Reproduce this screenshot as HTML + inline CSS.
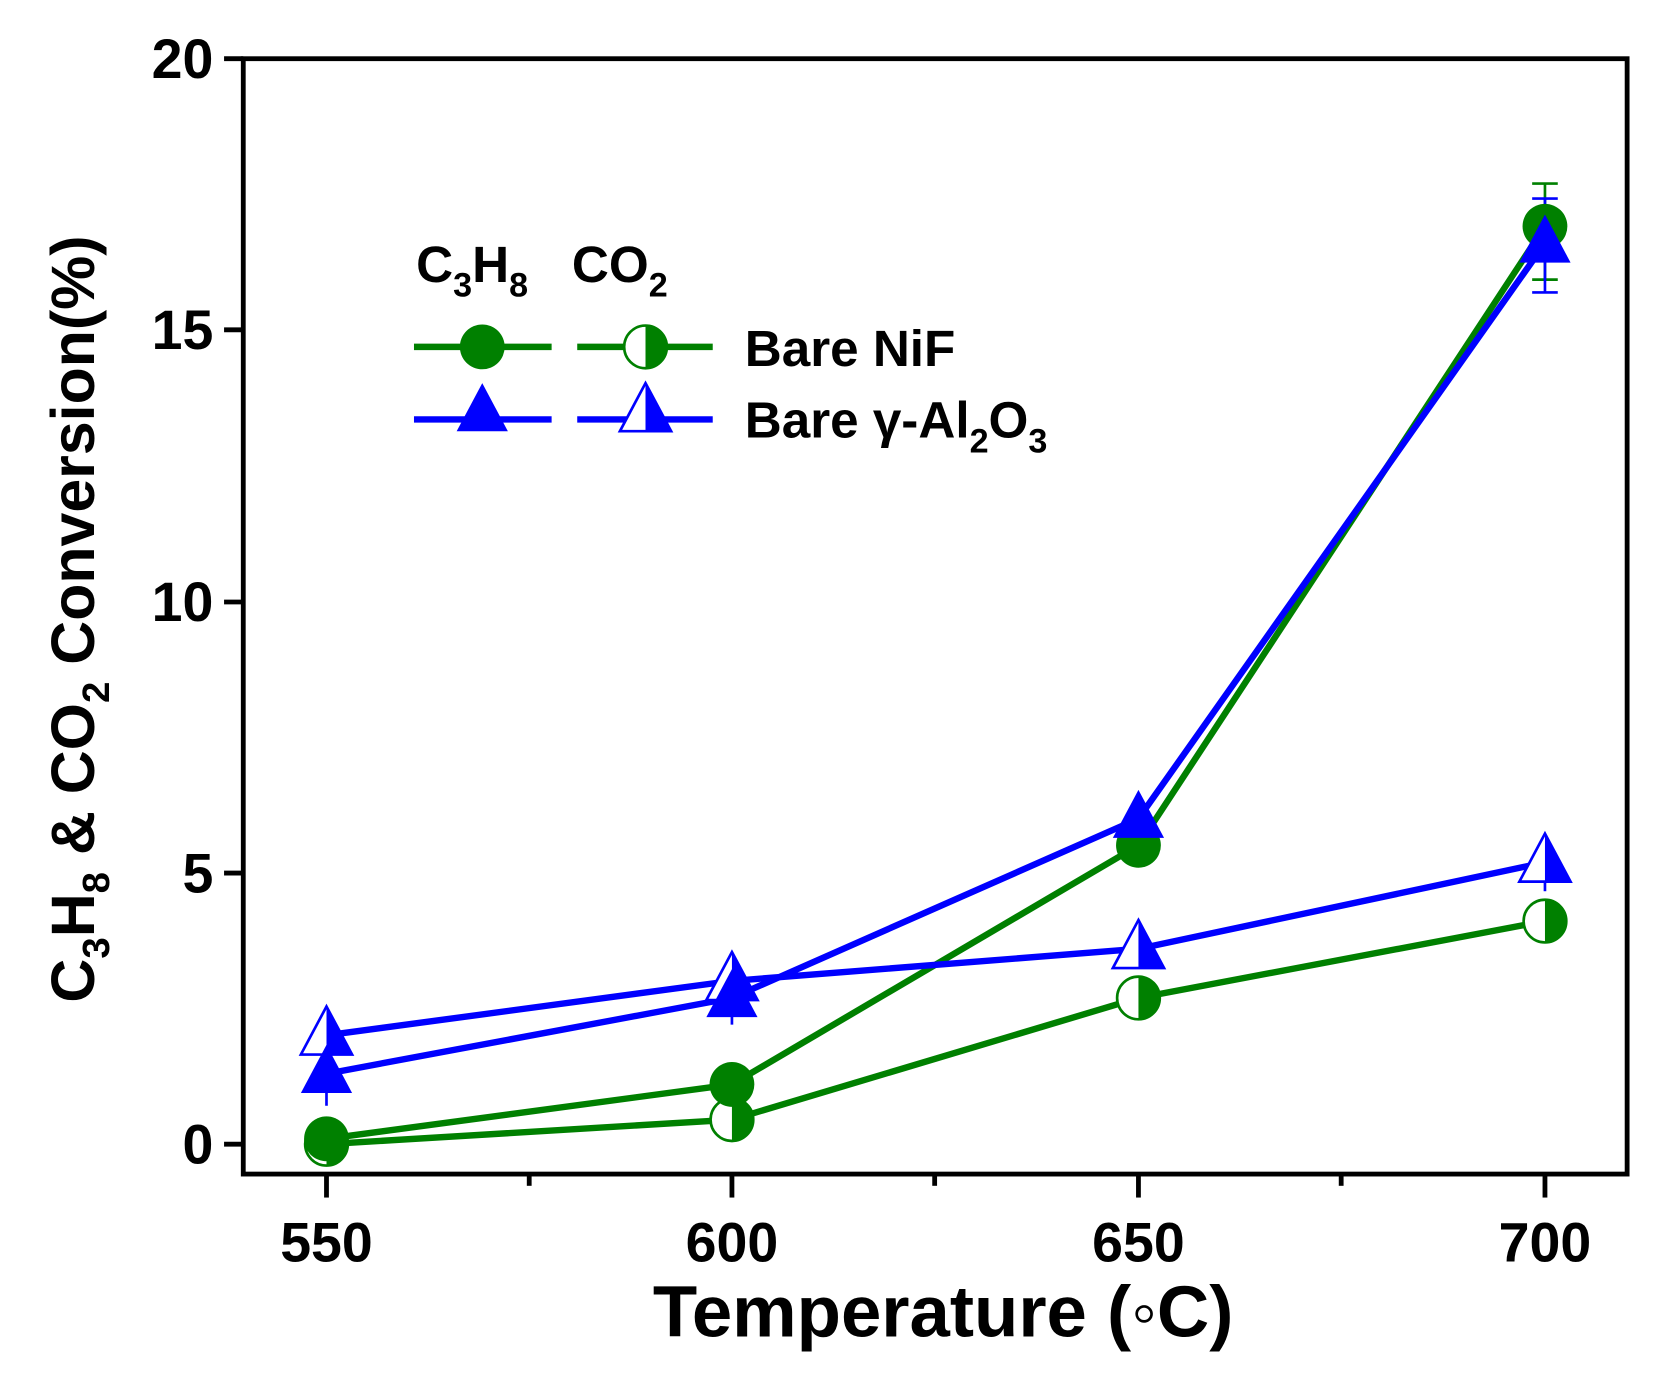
<!DOCTYPE html>
<html><head><style>
html,body{margin:0;padding:0;background:#fff;}
svg{display:block;}
text{font-family:"Liberation Sans",Arial,sans-serif;font-weight:bold;fill:#000;}
</style></head><body>
<svg width="1673" height="1379" viewBox="0 0 1568 1292" preserveAspectRatio="none" xmlns="http://www.w3.org/2000/svg">
<defs>
<g id="circF"><circle r="21" fill="#008000"/></g>
<g id="circH"><circle r="20" fill="#fff" stroke="#008000" stroke-width="2.5"/><path d="M0,-21 A21,21 0 0 1 0,21 Z" fill="#008000"/></g>
<g id="triF"><path d="M0,-27 L24,18 L-24,18 Z" fill="#0000ff"/></g>
<g id="triH"><path d="M0,-27 L24,18 L-24,18 Z" fill="#fff" stroke="#0000ff" stroke-width="2.5"/><path d="M0,-27 L24,18 L0,18 Z" fill="#0000ff"/></g>
</defs>
<rect x="228" y="55" width="1297" height="1045" fill="none" stroke="#000" stroke-width="4.5"/>
<g stroke="#000" stroke-width="4.5">
<line x1="210" y1="55" x2="228" y2="55"/>
<line x1="210" y1="309" x2="228" y2="309"/>
<line x1="210" y1="564" x2="228" y2="564"/>
<line x1="210" y1="818" x2="228" y2="818"/>
<line x1="210" y1="1072" x2="228" y2="1072"/>
<line x1="306" y1="1100" x2="306" y2="1122"/>
<line x1="686" y1="1100" x2="686" y2="1122"/>
<line x1="1067" y1="1100" x2="1067" y2="1122"/>
<line x1="1448" y1="1100" x2="1448" y2="1122"/>
<line x1="496" y1="1100" x2="496" y2="1111"/>
<line x1="876" y1="1100" x2="876" y2="1111"/>
<line x1="1257" y1="1100" x2="1257" y2="1111"/>
</g>
<g font-size="52" text-anchor="end">
<text x="200" y="73">20</text>
<text x="200" y="327">15</text>
<text x="200" y="582">10</text>
<text x="200" y="836">5</text>
<text x="200" y="1090">0</text>
</g>
<g font-size="52" text-anchor="middle">
<text x="306" y="1182">550</text>
<text x="686" y="1182">600</text>
<text x="1067" y="1182">650</text>
<text x="1448" y="1182">700</text>
</g>
<text x="884" y="1252" font-size="68" text-anchor="middle">Temperature (◦C)</text>
<text transform="translate(88,580) rotate(-90)" font-size="57" text-anchor="middle">C<tspan font-size="36" dy="14">3</tspan><tspan dy="-14">H</tspan><tspan font-size="36" dy="14">8</tspan><tspan dy="-14"> &amp; CO</tspan><tspan font-size="36" dy="14">2</tspan><tspan dy="-14"> Conversion(%)</tspan></text>
<g fill="none" stroke-width="6" stroke-linejoin="round">
<polyline stroke="#008000" points="306,1072 686,1049 1067,935 1448,863"/>
<polyline stroke="#008000" points="306,1067 686,1016 1067,792 1448,212"/>
<polyline stroke="#0000ff" points="306,970 686,919 1067,889 1448,808"/>
<polyline stroke="#0000ff" points="306,1006 686,935 1067,767 1448,228"/>
</g>
<g stroke-width="2.5">
<line x1="1448" y1="172" x2="1448" y2="262" stroke="#008000"/>
<line x1="1436" y1="172" x2="1460" y2="172" stroke="#008000"/>
<line x1="1436" y1="262" x2="1460" y2="262" stroke="#008000"/>
<line x1="1448" y1="186" x2="1448" y2="274" stroke="#0000ff"/>
<line x1="1436" y1="186" x2="1460" y2="186" stroke="#0000ff"/>
<line x1="1436" y1="274" x2="1460" y2="274" stroke="#0000ff"/>
<line x1="306" y1="1006" x2="306" y2="1036" stroke="#0000ff"/>
<line x1="686" y1="935" x2="686" y2="960" stroke="#0000ff"/>
<line x1="1448" y1="808" x2="1448" y2="835" stroke="#0000ff"/>
</g>
<use href="#circH" x="306" y="1072"/><use href="#circH" x="686" y="1049"/><use href="#circH" x="1067" y="935"/><use href="#circH" x="1448" y="863"/>
<use href="#circF" x="306" y="1067"/><use href="#circF" x="686" y="1016"/><use href="#circF" x="1067" y="792"/><use href="#circF" x="1448" y="212"/>
<use href="#triH" x="306" y="970"/><use href="#triH" x="686" y="919"/><use href="#triH" x="1067" y="889"/><use href="#triH" x="1448" y="808"/>
<use href="#triF" x="306" y="1006"/><use href="#triF" x="686" y="935"/><use href="#triF" x="1067" y="767"/><use href="#triF" x="1448" y="228"/>
<text x="390" y="264" font-size="48">C<tspan font-size="32" dy="14">3</tspan><tspan dy="-14">H</tspan><tspan font-size="32" dy="14">8</tspan></text>
<text x="536" y="264" font-size="48">CO<tspan font-size="32" dy="14">2</tspan></text>
<g stroke-width="6">
<line x1="388" y1="325" x2="517" y2="325" stroke="#008000"/>
<line x1="541" y1="325" x2="668" y2="325" stroke="#008000"/>
<line x1="388" y1="393" x2="517" y2="393" stroke="#0000ff"/>
<line x1="541" y1="393" x2="668" y2="393" stroke="#0000ff"/>
</g>
<use href="#circF" x="452" y="325"/><use href="#circH" x="605" y="325"/>
<use href="#triF" x="452" y="386"/><use href="#triH" x="605" y="386"/>
<text x="698" y="343" font-size="48">Bare NiF</text>
<text x="698" y="410" font-size="48">Bare γ-Al<tspan font-size="32" dy="14">2</tspan><tspan dy="-14">O</tspan><tspan font-size="32" dy="14">3</tspan></text>
</svg>
</body></html>
